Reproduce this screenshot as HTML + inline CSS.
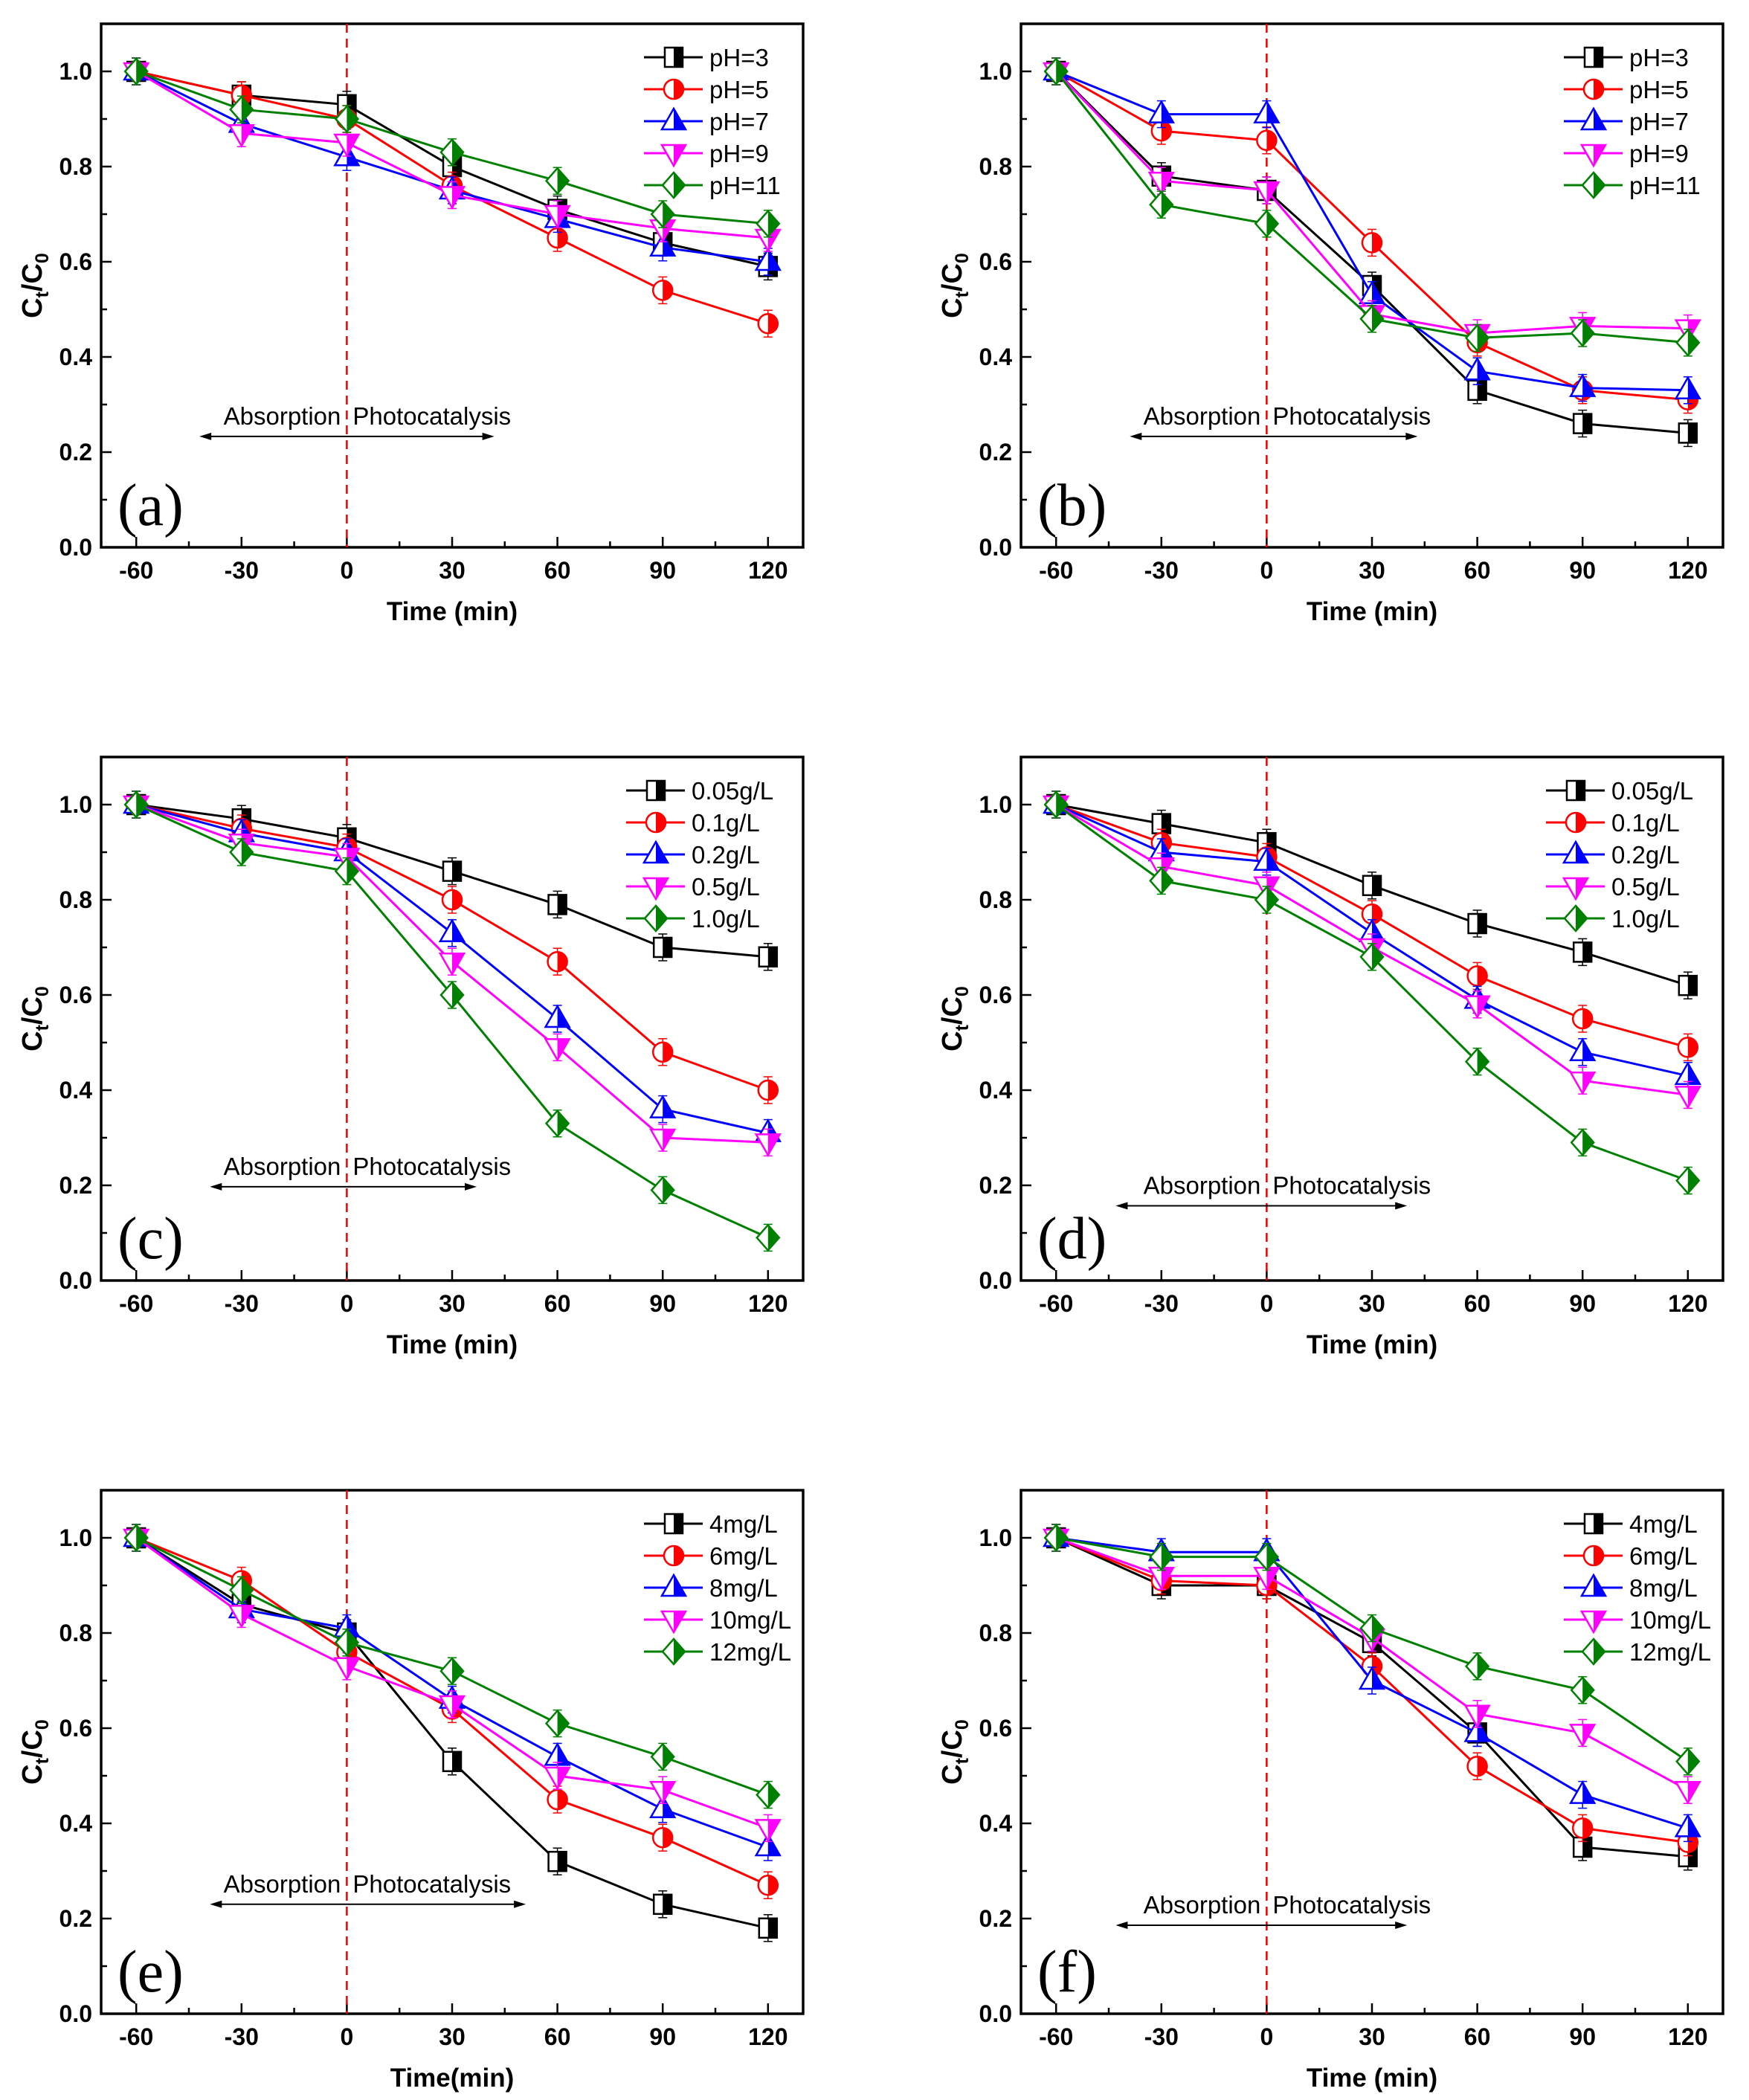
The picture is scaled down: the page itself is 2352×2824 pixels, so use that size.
<!DOCTYPE html>
<html><head><meta charset="utf-8"><style>
body{margin:0;background:#fff;}
svg{display:block;}
text{font-family:"Liberation Sans",Arial,sans-serif;}
</style></head><body>
<svg id="s" width="2352" height="2824" xmlns="http://www.w3.org/2000/svg"></svg>
<script>
const S=document.getElementById('s');let h='';
const cols=['#000','#f00','#00f','#f0f','#008000'];
const X=[-60,-30,0,30,60,90,120];
const panels=[
{l:136,t:32,lab:'(a)',leg:['pH=3','pH=5','pH=7','pH=9','pH=11'],xt:'Time (min)',ar:[-42,42,0.233],
d:[[1,.95,.93,.80,.71,.64,.59],[1,.95,.90,.76,.65,.54,.47],[1,.89,.82,.75,.69,.63,.60],[1,.87,.85,.74,.70,.67,.65],[1,.92,.90,.83,.77,.70,.68]]},
{l:1373,t:32,lab:'(b)',leg:['pH=3','pH=5','pH=7','pH=9','pH=11'],xt:'Time (min)',ar:[-39,43,0.233],
d:[[1,.78,.75,.55,.33,.26,.24],[1,.875,.855,.64,.43,.33,.31],[1,.91,.91,.53,.37,.335,.33],[1,.77,.75,.49,.45,.465,.46],[1,.72,.68,.48,.44,.45,.43]]},
{l:136,t:1018,lab:'(c)',leg:['0.05g/L','0.1g/L','0.2g/L','0.5g/L','1.0g/L'],xt:'Time (min)',ar:[-39,37,0.197],
d:[[1,.97,.93,.86,.79,.70,.68],[1,.95,.91,.80,.67,.48,.40],[1,.94,.90,.73,.55,.36,.31],[1,.92,.89,.67,.49,.30,.29],[1,.90,.86,.60,.33,.19,.09]]},
{l:1373,t:1018,lab:'(d)',leg:['0.05g/L','0.1g/L','0.2g/L','0.5g/L','1.0g/L'],xt:'Time (min)',ar:[-43,40,0.157],
d:[[1,.96,.92,.83,.75,.69,.62],[1,.92,.89,.77,.64,.55,.49],[1,.90,.88,.73,.59,.48,.43],[1,.87,.83,.70,.58,.42,.39],[1,.84,.80,.68,.46,.29,.21]]},
{l:136,t:2004,lab:'(e)',leg:['4mg/L','6mg/L','8mg/L','10mg/L','12mg/L'],xt:'Time(min)',ar:[-39,51,0.23],
d:[[1,.86,.80,.53,.32,.23,.18],[1,.91,.76,.64,.45,.37,.27],[1,.85,.81,.66,.54,.43,.35],[1,.84,.73,.65,.50,.47,.39],[1,.89,.78,.72,.61,.54,.46]]},
{l:1373,t:2004,lab:'(f)',leg:['4mg/L','6mg/L','8mg/L','10mg/L','12mg/L'],xt:'Time (min)',ar:[-43,40,0.186],
d:[[1,.90,.90,.78,.59,.35,.33],[1,.91,.90,.73,.52,.39,.36],[1,.97,.97,.70,.59,.46,.39],[1,.92,.92,.79,.63,.59,.47],[1,.96,.96,.81,.73,.68,.53]]}
];
function marker(k,cx,cy,c){
 let s='';
 if(k==0){s+=`<rect x="${cx-12}" y="${cy-13}" width="24" height="26" fill="#fff" stroke="${c}" stroke-width="2.5"/><rect x="${cx}" y="${cy-13}" width="12" height="26" fill="${c}"/>`;}
 else if(k==1){s+=`<circle cx="${cx}" cy="${cy}" r="13" fill="#fff" stroke="${c}" stroke-width="2.5"/><path d="M${cx} ${cy-13}A13 13 0 0 1 ${cx} ${cy+13}Z" fill="${c}"/>`;}
 else if(k==2){s+=`<path d="M${cx} ${cy-17}L${cx+16} ${cy+11}L${cx-16} ${cy+11}Z" fill="#fff" stroke="${c}" stroke-width="2.5"/><path d="M${cx} ${cy-17}L${cx+16} ${cy+11}L${cx} ${cy+11}Z" fill="${c}"/>`;}
 else if(k==3){s+=`<path d="M${cx} ${cy+17}L${cx+16} ${cy-11}L${cx-16} ${cy-11}Z" fill="#fff" stroke="${c}" stroke-width="2.5"/><path d="M${cx} ${cy+17}L${cx+16} ${cy-11}L${cx} ${cy-11}Z" fill="${c}"/>`;}
 else {s+=`<path d="M${cx} ${cy-17}L${cx+15} ${cy}L${cx} ${cy+17}L${cx-15} ${cy}Z" fill="#fff" stroke="${c}" stroke-width="2.5"/><path d="M${cx} ${cy-17}L${cx+15} ${cy}L${cx} ${cy+17}Z" fill="${c}"/>`;}
 return s;
}
panels.forEach(p=>{
 const W=944,H=704,L=p.l,T=p.t,B=T+H,R=L+W;
 const px=x=>L+(x+70)/200*W, py=y=>B-y/1.1*H;
 for(let x=-60;x<=120;x+=15){const xx=px(x),len=x%30==0?14:8;h+=`<line x1="${xx}" y1="${B}" x2="${xx}" y2="${B-len}" stroke="#000" stroke-width="2.5"/>`;
  if(x%30==0)h+=`<text x="${xx}" y="${B+42}" font-size="32" font-weight="bold" text-anchor="middle">${x}</text>`;}
 for(let i=0;i<=10;i++){const y=i/10,yy=py(y),len=i%2==0?14:8;h+=`<line x1="${L}" y1="${yy}" x2="${L+len}" y2="${yy}" stroke="#000" stroke-width="2.5"/>`;
  if(i%2==0)h+=`<text x="${L-12}" y="${yy+11}" font-size="32" font-weight="bold" text-anchor="end">${y.toFixed(1)}</text>`;}
 h+=`<rect x="${L}" y="${T}" width="${W}" height="${H}" fill="none" stroke="#000" stroke-width="3.5"/>`;
 h+=`<line x1="${px(0)}" y1="${T}" x2="${px(0)}" y2="${B}" stroke="#e00" stroke-width="2.5" stroke-dasharray="12,8"/>`;
 h+=`<text x="${(L+R)/2}" y="${B+98}" font-size="35" font-weight="bold" text-anchor="middle">${p.xt}</text>`;
 h+=`<text transform="translate(${L-80},${(T+B)/2}) rotate(-90)" font-size="38" font-weight="bold" text-anchor="middle">C<tspan font-size="25" dy="9">t</tspan><tspan dy="-9">/C</tspan><tspan font-size="25" dy="9">0</tspan></text>`;
 h+=`<text x="${L+22}" y="${B-30}" font-size="80" style="font-family:'Liberation Serif',serif">${p.lab}</text>`;
 const ay=py(p.ar[2]),a1=px(p.ar[0]),a2=px(p.ar[1]);
 h+=`<line x1="${a1+10}" y1="${ay}" x2="${a2-10}" y2="${ay}" stroke="#000" stroke-width="2"/><path d="M${a1} ${ay}L${a1+16} ${ay-5}L${a1+16} ${ay+5}Z"/><path d="M${a2} ${ay}L${a2-16} ${ay-5}L${a2-16} ${ay+5}Z"/>`;
 h+=`<text x="${px(0)-8}" y="${ay-16}" font-size="33" text-anchor="end">Absorption</text><text x="${px(0)+8}" y="${ay-16}" font-size="33">Photocatalysis</text>`;
 p.d.forEach((d,k)=>{const c=cols[k];
  h+=`<polyline fill="none" stroke="${c}" stroke-width="3" points="${d.map((y,i)=>px(X[i])+','+py(y)).join(' ')}"/>`;
  d.forEach((y,i)=>{const xx=px(X[i]),yy=py(y);h+=`<line x1="${xx}" y1="${yy-18}" x2="${xx}" y2="${yy+18}" stroke="${c}" stroke-width="1.5"/><line x1="${xx-6}" y1="${yy-18}" x2="${xx+6}" y2="${yy-18}" stroke="${c}" stroke-width="1.5"/><line x1="${xx-6}" y1="${yy+18}" x2="${xx+6}" y2="${yy+18}" stroke="${c}" stroke-width="1.5"/>`;});
  d.forEach((y,i)=>{h+=marker(k,px(X[i]),py(y),c);});
 });
 const lx=R-(p.leg[0].length>5?238:214);
 p.leg.forEach((t,k)=>{const yy=T+45+k*43,c=cols[k];
  h+=`<line x1="${lx}" y1="${yy}" x2="${lx+79}" y2="${yy}" stroke="${c}" stroke-width="3"/>`+marker(k,lx+40,yy,c)+`<text x="${lx+88}" y="${yy+12}" font-size="33">${t}</text>`;});
});
S.innerHTML=h;
</script>
</body></html>
